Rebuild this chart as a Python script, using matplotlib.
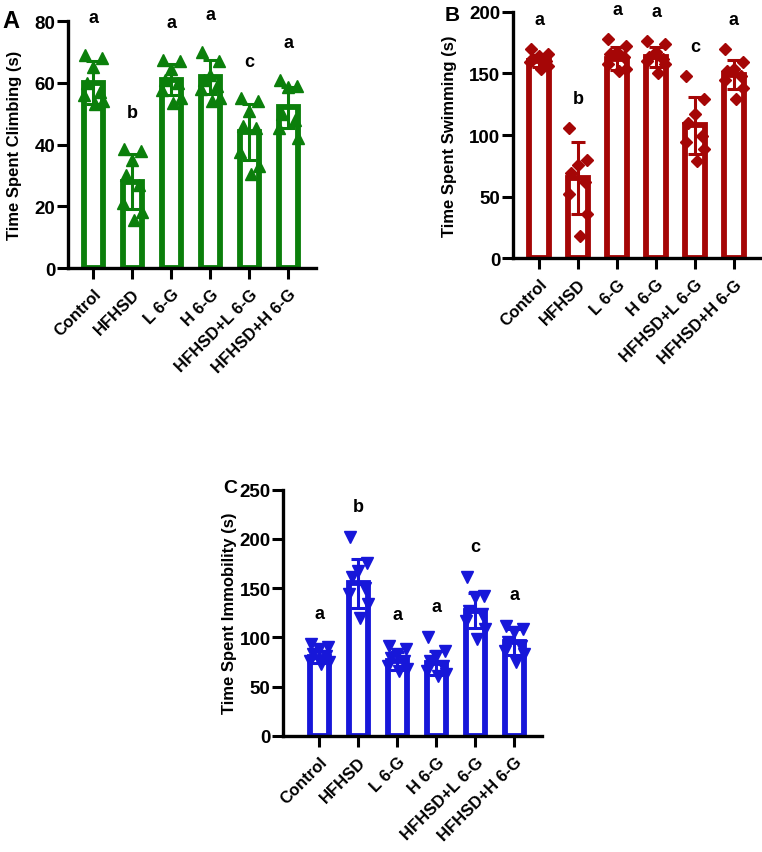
import numpy as np
import matplotlib.pyplot as plt

plt.rcParams['font.family'] = ['Liberation Sans', 'DejaVu Sans']
plt.rcParams['font.weight'] = 'bold'

groups = ['Control', 'HFHSD', 'L 6-G', 'H 6-G', 'HFHSD+L 6-G', 'HFHSD+H 6-G']

# Panel A - climbing
climb_mean = [60, 28, 61, 62, 44, 52]
climb_sd = [7, 9, 5, 5.5, 9, 6.5]
climb_pts = [
    [69, 68, 65, 60, 57, 56, 54, 53],
    [38.5, 38, 35, 30, 27, 21, 18, 15.5],
    [67.5, 67, 64.5, 61, 60, 57.5, 55, 53.5],
    [70, 67, 62.5, 61, 59, 58, 55, 54],
    [55, 54, 51, 46, 45.5, 37.5, 33, 30.5],
    [61, 59, 58.5, 50, 48, 45.5, 42],
]
climb_sig = ['a', 'b', 'a', 'a', 'c', 'a']

# Panel B - swimming
swim_mean = [160, 65, 162, 163, 108, 149]
swim_sd = [5, 29, 9, 8, 23, 12]
swim_pts = [
    [170, 165.5, 164, 161.5, 160, 159, 156, 153.5],
    [106, 80, 76, 69.5, 62, 52, 36, 18],
    [178, 172, 167, 165.5, 163, 157.5, 153.5, 152],
    [176.5, 174, 167, 163, 161.5, 160, 157.5, 150],
    [148, 129, 117, 110, 99.5, 94, 88.5, 79],
    [169.5, 159, 153.5, 152, 148, 145, 138, 129],
]
swim_sig = ['a', 'b', 'a', 'a', 'c', 'a']

# Panel C - immobility
immob_mean = [80, 155, 76, 74, 127, 95]
immob_sd = [6, 25, 9, 12, 18, 13]
immob_pts = [
    [93, 90, 88, 83, 81, 76, 74.5, 73],
    [201.5, 176, 167.5, 161, 150.5, 144, 134, 120],
    [91.5, 88, 83, 79.5, 76, 71, 67.5, 66],
    [100, 86, 81, 76, 71, 66, 62.5, 61],
    [161, 142, 140.5, 127, 123.5, 117, 108, 98],
    [112, 108, 105, 95, 91.5, 86, 83, 74.5],
]
immob_sig = ['a', 'b', 'a', 'a', 'c', 'a']

jitter = [-0.22, 0.22, 0.0, -0.17, 0.17, -0.24, 0.24, 0.05]


def panel(ax, means, sds, pts, sig, color, marker, msize, ymax, step, ylabel,
          xlim, sig_off):
    x = np.arange(len(groups))
    ax.bar(x, means, width=0.5, facecolor='white', edgecolor=color,
           linewidth=4.2, zorder=2)
    for i, p in enumerate(pts):
        xs = [x[i] + jitter[k] for k in range(len(p))]
        ax.plot(xs, p, linestyle='none', marker=marker, color=color,
                markersize=msize, zorder=3)
        ax.text(x[i], max(p) + sig_off * ymax, sig[i], ha='center', va='center',
                fontsize=13, fontweight='bold', clip_on=False)
    ax.errorbar(x, means, yerr=sds, fmt='none', ecolor=color, elinewidth=2.2,
                capsize=5, capthick=2.2, zorder=4)
    ax.set_ylim(0, ymax)
    ax.set_xlim(*xlim)
    ax.set_yticks(np.arange(0, ymax + 1, step))
    ax.set_xticks(x)
    ax.set_xticklabels(groups, rotation=45, ha='right', rotation_mode='anchor',
                       fontsize=12, fontweight='bold')
    ax.tick_params(axis='y', labelsize=13.5, width=2.2, length=8, pad=1)
    ax.tick_params(axis='x', width=2.2, length=8, pad=5)
    ax.set_ylabel(ylabel, fontsize=12, fontweight='bold')
    for s in ['top', 'right']:
        ax.spines[s].set_visible(False)
    for s in ['left', 'bottom']:
        ax.spines[s].set_linewidth(2.4)


fig = plt.figure(figsize=(7.62, 8.53), dpi=100)

axA = fig.add_axes([0.0892, 0.6846, 0.3255, 0.2896])
panel(axA, climb_mean, climb_sd, climb_pts, climb_sig, '#0b7f0b', '^', 8,
      80, 20, 'Time Spent Climbing (s)', (-0.65, 5.71), 0.15)
axA.yaxis.set_label_coords(-0.185, 0.5)

axB = fig.add_axes([0.6732, 0.6960, 0.3268, 0.2891])
panel(axB, swim_mean, swim_sd, swim_pts, swim_sig, '#a50606', 'D', 6.5,
      200, 50, 'Time Spent Swimming (s)', (-0.67, 5.72), 0.12)
axB.yaxis.set_label_coords(-0.225, 0.5)

axC = fig.add_axes([0.3714, 0.1363, 0.3395, 0.2884])
panel(axC, immob_mean, immob_sd, immob_pts, immob_sig, '#1717d9', 'v', 8,
      250, 50, 'Time Spent Immobility (s)', (-0.93, 5.7), 0.125)
axC.yaxis.set_label_coords(-0.178, 0.5)

fig.text(0.003, 0.988, 'A', fontsize=17, fontweight='bold', va='top')
fig.text(0.583, 0.993, 'B', fontsize=15, fontweight='bold', va='top')
fig.text(0.293, 0.437, 'C', fontsize=14, fontweight='bold', va='top')

fig.savefig('out.png', dpi=100)
